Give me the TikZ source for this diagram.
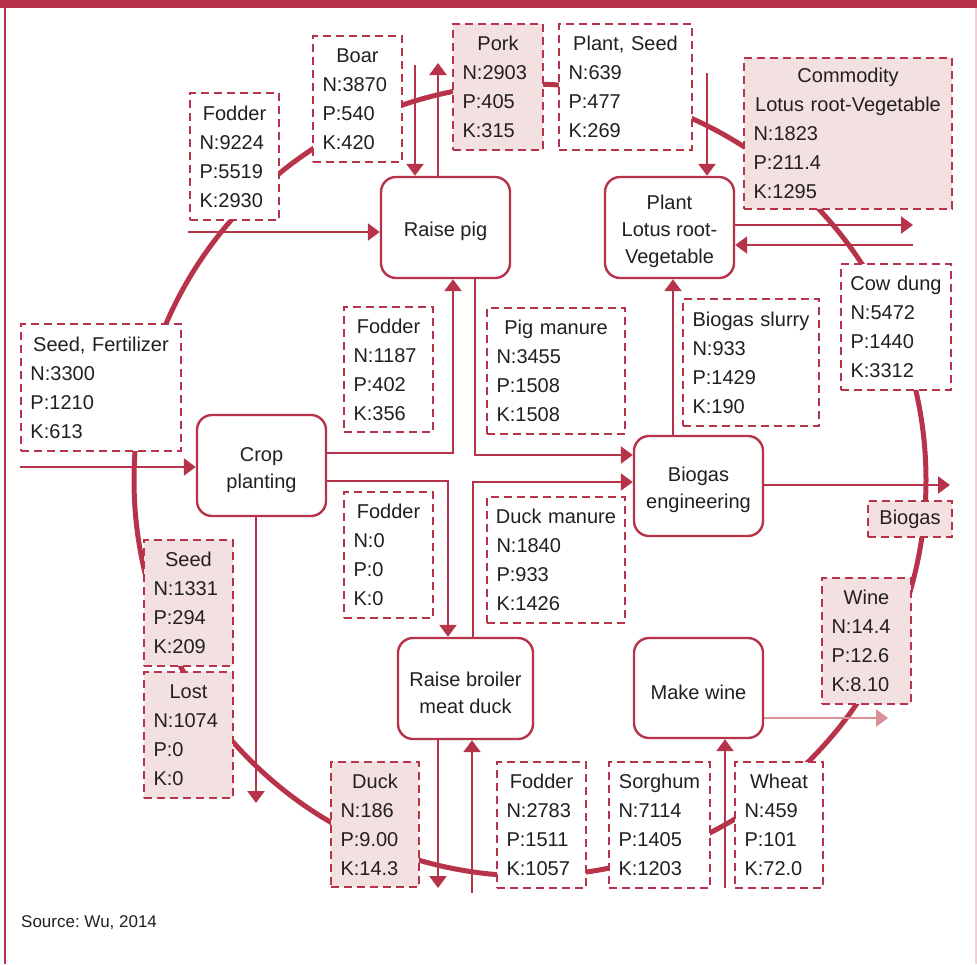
\documentclass[tikz,border=0pt]{standalone}
\usepackage{fontspec}
\setmainfont{Liberation Sans}
\usetikzlibrary{arrows.meta}
\definecolor{cred}{RGB}{183,51,73}
\definecolor{cpink}{RGB}{243,225,225}
\definecolor{carrpink}{RGB}{219,143,150}
\definecolor{ctext}{RGB}{35,31,32}
\definecolor{cborder}{RGB}{240,205,210}
\frenchspacing
\newcommand\Ttl[1]{\makebox[\linewidth]{#1}}
\newcommand\PStrut{\rule{0pt}{23pt}}
\newcommand\DataBox[7][]{%
  \pgfmathsetmacro\bw{#5-#3}%
  \pgfmathsetmacro\bh{#6-#4}%
  \pgfmathsetmacro\bx{(#3+#5)/2}%
  \pgfmathsetmacro\by{(#4+#6)/2}%
  \pgfmathsetmacro\tw{#5-#3-19}%
  \node[databox,minimum width=\bw pt,minimum height=\bh pt,text width=\tw pt,#1] (#2) at (\bx,\by) {#7};}
\newcommand\ProcBox[6]{%
  \pgfmathsetmacro\bw{#4-#2}%
  \pgfmathsetmacro\bh{#5-#3}%
  \pgfmathsetmacro\bx{(#2+#4)/2}%
  \pgfmathsetmacro\by{(#3+#5)/2}%
  \node[procbox,minimum width=\bw pt,minimum height=\bh pt] (#1) at (\bx,\by) {\PStrut#6};}
\begin{document}
\begin{tikzpicture}[x=1pt,y=-1pt,
  databox/.style={draw=cred, line width=2.4pt, dash pattern=on 8pt off 5pt, fill=white, align=left, inner xsep=9.5pt, inner ysep=0pt, font=\fontsize{20}{29}\selectfont, text=ctext},
  pinkbox/.style={fill=cpink},
  procbox/.style={draw=cred, line width=2.4pt, rounded corners=15pt, fill=white, align=center, font=\fontsize{20}{27}\selectfont, text=ctext, inner sep=0pt},
  arr/.style={draw=cred, line width=2.5pt, -{Triangle[length=12pt,width=17pt]}},
  arrpink/.style={arr, draw=carrpink},
  ringline/.style={draw=cred, line width=5pt}]
\useasboundingbox (0,0) rectangle (977,964);
% frame
\fill[cred] (0,0) rectangle (977,8);
\draw[cred, line width=2pt] (5,8) -- (5,964);
\draw[cborder, line width=1.5pt] (976,8) -- (976,964);
% nutrient cycle ring
\coordinate (ctr) at (530,480);
\draw[ringline] (ctr) circle[radius=396];
% data boxes
\DataBox{fodA}{190}{93}{279}{220}{\Ttl{Fodder}\\N:9224\\P:5519\\K:2930}
\DataBox{boar}{313}{36}{402}{162}{\Ttl{Boar}\\N:3870\\P:540\\K:420}
\DataBox[pinkbox]{pork}{453}{24}{543}{150}{\Ttl{Pork}\\N:2903\\P:405\\K:315}
\DataBox{plseed}{559}{24}{692}{150}{\Ttl{Plant, Seed}\\N:639\\P:477\\K:269}
\DataBox[pinkbox]{commod}{744}{58}{952}{209}{\Ttl{Commodity}\\\Ttl{Lotus root-Vegetable}\\N:1823\\P:211.4\\K:1295}
\DataBox{cowdung}{841}{264}{951}{390}{\Ttl{Cow dung}\\N:5472\\P:1440\\K:3312}
\DataBox{slurry}{683}{299}{819}{426}{\Ttl{Biogas slurry}\\N:933\\P:1429\\K:190}
\DataBox{pigman}{487}{308}{625}{434}{\Ttl{Pig manure}\\N:3455\\P:1508\\K:1508}
\DataBox{fodB}{344}{307}{433}{432}{\Ttl{Fodder}\\N:1187\\P:402\\K:356}
\DataBox{seedfert}{21}{324}{181}{451}{\Ttl{Seed, Fertilizer}\\N:3300\\P:1210\\K:613}
\DataBox{fodC}{344}{492}{433}{618}{\Ttl{Fodder}\\N:0\\P:0\\K:0}
\DataBox{duckman}{487}{497}{625}{623}{\Ttl{Duck manure}\\N:1840\\P:933\\K:1426}
\DataBox[pinkbox]{gasprod}{868}{501}{952}{537}{\Ttl{Biogas}}
\DataBox[pinkbox]{wineprod}{822}{578}{911}{704}{\Ttl{Wine}\\N:14.4\\P:12.6\\K:8.10}
\DataBox[pinkbox]{seed}{144}{540}{233}{666}{\Ttl{Seed}\\N:1331\\P:294\\K:209}
\DataBox[pinkbox]{lost}{144}{672}{233}{798}{\Ttl{Lost}\\N:1074\\P:0\\K:0}
\DataBox[pinkbox]{duckprod}{331}{762}{419}{887}{\Ttl{Duck}\\N:186\\P:9.00\\K:14.3}
\DataBox{fodD}{497}{762}{586}{888}{\Ttl{Fodder}\\N:2783\\P:1511\\K:1057}
\DataBox{sorghum}{609}{762}{710}{888}{\Ttl{Sorghum}\\N:7114\\P:1405\\K:1203}
\DataBox{wheat}{735}{762}{823}{888}{\Ttl{Wheat}\\N:459\\P:101\\K:72.0}
% process boxes
\ProcBox{pig}{381}{177}{510}{278}{Raise pig}
\ProcBox{lotus}{605}{177}{734}{278}{Plant\\Lotus root-\\Vegetable}
\ProcBox{crop}{197}{415}{326}{516}{Crop\\planting}
\ProcBox{biogas}{634}{436}{763}{536}{Biogas\\engineering}
\ProcBox{broiler}{398}{638}{533}{739}{Raise broiler\\meat duck}
\ProcBox{wine}{634}{638}{763}{738}{Make wine}
% connectors
\coordinate (inPig) at (188,232);
\draw[arr] (inPig) -- (inPig -| pig.west);
\coordinate (pigInTop) at (415,65);
\draw[arr] (pigInTop) -- (pigInTop |- pig.north);
\coordinate (pigOutTop) at (438,63);
\draw[arr] (pigOutTop |- pig.north) -- (pigOutTop);
\coordinate (lotusInTop) at (707,73);
\draw[arr] (lotusInTop) -- (lotusInTop |- lotus.north);
\coordinate (lotusOutR) at (913,225);
\draw[arr] (lotusOutR -| lotus.east) -- (lotusOutR);
\coordinate (lotusInR) at (913,245);
\draw[arr] (lotusInR) -- (lotusInR -| lotus.east);
\coordinate (cropIn) at (20,467);
\draw[arr] (cropIn) -- (cropIn -| crop.west);
\coordinate (bendA) at (453,453);
\draw[arr] (crop.east |- bendA) -- (bendA) -- (bendA |- pig.south);
\coordinate (bendB) at (448,481);
\draw[arr] (crop.east |- bendB) -- (bendB) -- (bendB |- broiler.north);
\coordinate (cropOut) at (256,803);
\draw[arr] (cropOut |- crop.south) -- (cropOut);
\coordinate (bendC) at (475,455);
\draw[arr] (bendC |- pig.south) -- (bendC) -- (bendC -| biogas.west);
\coordinate (bendD) at (473,482);
\draw[arr] (bendD |- broiler.north) -- (bendD) -- (bendD -| biogas.west);
\coordinate (slurryX) at (673,0);
\draw[arr] (slurryX |- biogas.north) -- (slurryX |- lotus.south);
\coordinate (gasOut) at (950,485);
\draw[arr] (gasOut -| biogas.east) -- (gasOut);
\coordinate (wineOut) at (888,718);
\draw[arrpink] (wineOut -| wine.east) -- (wineOut);
\coordinate (wineIn) at (725,888);
\draw[arr] (wineIn) -- (wineIn |- wine.south);
\coordinate (duckOut) at (438,888);
\draw[arr] (duckOut |- broiler.south) -- (duckOut);
\coordinate (duckIn) at (472,893);
\draw[arr] (duckIn) -- (duckIn |- broiler.south);
% source
\node[anchor=west, font=\fontsize{17}{20}\selectfont, text=ctext, inner sep=0pt] (src) at (21,923) {Source: Wu, 2014};
\end{tikzpicture}
\end{document}
